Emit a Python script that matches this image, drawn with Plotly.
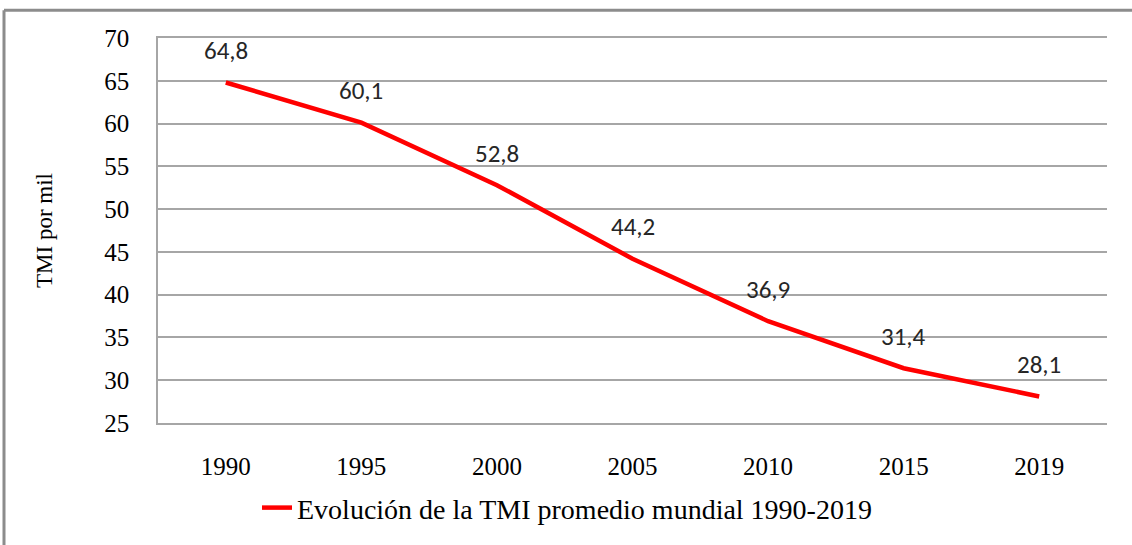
import plotly.graph_objects as go

# data
YEARS = ["1990", "1995", "2000", "2005", "2010", "2015", "2019"]
TMI = [64.8, 60.1, 52.8, 44.2, 36.9, 31.4, 28.1]
SERIES_NAME = "Evolución de la TMI promedio mundial 1990-2019"
Y_TITLE = "TMI por mil"

RED = "#ff0000"
GRID_GRAY = "#a6a6a6"
FRAME_GRAY = "#8c8c8c"
SERIF = "Liberation Serif, Times New Roman, serif"
SANS = "Carlito, Lato, Arial, sans-serif"

W, H = 1132, 545
L, R, T, B = 158, 25, 38, 117
PW, PH = W - L - R, H - T - B


def px_x(x):
    return (x - L) / PW


def px_y(y):
    return (H - B - y) / PH


fig = go.Figure()
fig.add_trace(go.Scatter(
    x=YEARS, y=TMI, mode="lines", name=SERIES_NAME,
    line=dict(color=RED, width=4.5),
))

# data labels, comma decimal (x given as category index)
for i, v in enumerate(TMI):
    fig.add_annotation(
        x=i, y=v, text=f"{v:.1f}".replace(".", ","),
        showarrow=False, yanchor="middle", yshift=32,
        font=dict(family=SANS, size=25, color="#262626"),
    )

# outer chart frame (only top and left edges fall inside the picture)
fig.add_shape(type="line", xref="paper", yref="paper",
              x0=px_x(4), x1=px_x(W + 10), y0=px_y(10), y1=px_y(10),
              line=dict(color=FRAME_GRAY, width=3))
fig.add_shape(type="line", xref="paper", yref="paper",
              x0=px_x(4), x1=px_x(4), y0=px_y(10), y1=px_y(H + 10),
              line=dict(color=FRAME_GRAY, width=3))

fig.update_layout(
    width=W, height=H,
    paper_bgcolor="white", plot_bgcolor="white",
    margin=dict(l=L, r=R, t=T, b=B, pad=0),
    font=dict(family=SERIF, color="black", size=25),
    showlegend=True,
    legend=dict(orientation="h", x=px_x(257), xanchor="left",
                y=px_y(514), yanchor="middle",
                font=dict(family=SERIF, size=28, color="black"),
                bgcolor="rgba(0,0,0,0)"),
    xaxis=dict(type="category", range=[-0.5, 6.5], showgrid=False,
               showline=True, mirror=True, linecolor=GRID_GRAY, linewidth=1.5,
               ticks="", ticklabelstandoff=20, tickfont=dict(size=25)),
    yaxis=dict(range=[25, 70], dtick=5, showgrid=True, gridcolor=GRID_GRAY,
               gridwidth=1.5, showline=True, linecolor=GRID_GRAY, linewidth=1.5,
               zeroline=False, ticks="", ticklabelstandoff=22,
               tickfont=dict(size=25),
               title=dict(text=Y_TITLE, standoff=45,
                          font=dict(family=SERIF, size=23))),
)

# drop the default body margin so the figure sits at the page corner
fig.write_html("out.html", config={"displayModeBar": False},
               post_script="document.body.style.margin='0px';")
